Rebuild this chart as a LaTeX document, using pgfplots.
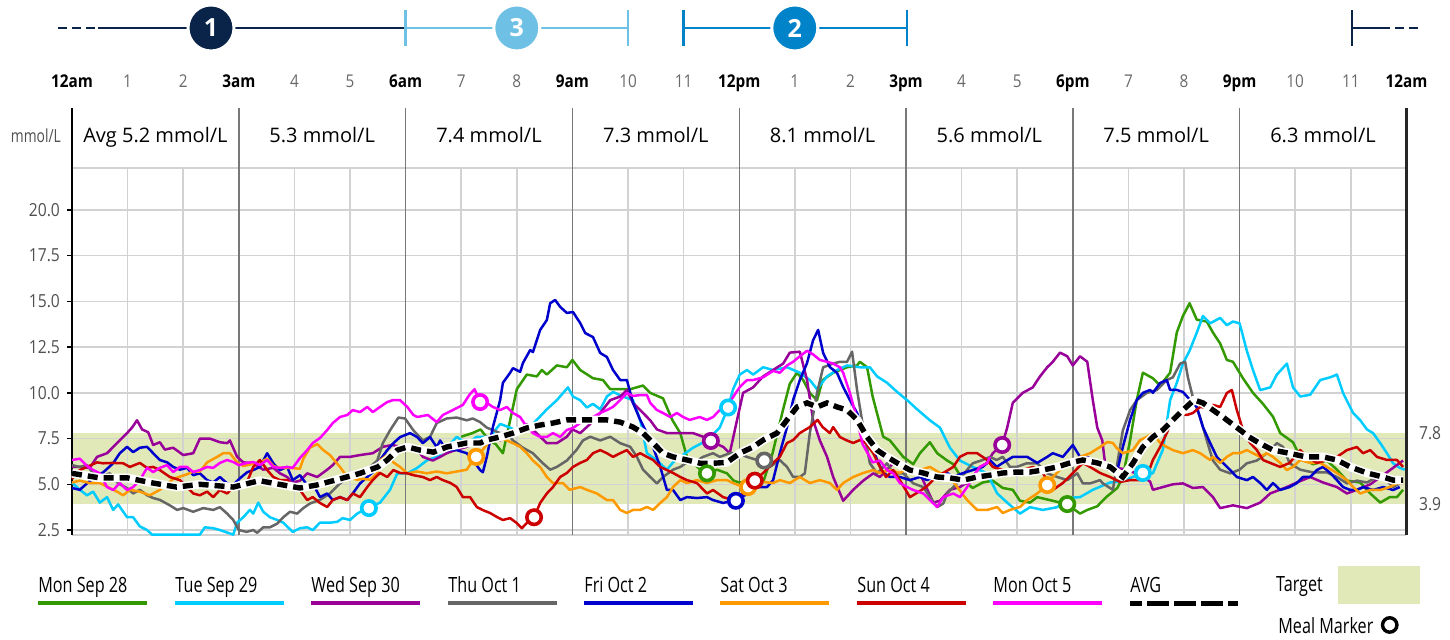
\documentclass[border=0pt]{standalone}
\usepackage{fontspec}
\setmainfont{Open Sans}
\newfontfamily\condA[FakeStretch=0.77]{Open Sans}
\newfontfamily\condB[FakeStretch=0.87]{Open Sans}
\usepackage{pgfplots}
\pgfplotsset{compat=1.18}
\definecolor{cgreen}{RGB}{51,153,0}
\definecolor{ccyan}{RGB}{0,204,255}
\definecolor{cpurple}{RGB}{153,0,153}
\definecolor{cgray}{RGB}{102,102,102}
\definecolor{cblue}{RGB}{0,0,204}
\definecolor{corange}{RGB}{255,153,0}
\definecolor{cred}{RGB}{204,0,0}
\definecolor{cmag}{RGB}{255,0,255}
\definecolor{target}{RGB}{225,233,185}
\definecolor{navy}{RGB}{10,35,72}
\definecolor{lblue}{RGB}{110,193,228}
\definecolor{mblue}{RGB}{0,131,200}
\definecolor{gridc}{RGB}{210,210,210}
\definecolor{grid3}{RGB}{120,120,120}
\definecolor{labc}{RGB}{80,80,80}
\definecolor{hourc}{RGB}{105,105,105}
\begin{document}
\begin{tikzpicture}
\begin{axis}[
 x=27.8pt, y=9.145pt,
 xmin=0, xmax=24, ymin=2.23, ymax=25.57,
 clip=false,
 axis line style={draw=none},
 xtick=\empty,
 ytick={2.5,5,7.5,10,12.5,15,17.5,20},
 yticklabel style={font=\condB\fontsize{9}{10}\selectfont, text=labc,
   /pgf/number format/fixed, /pgf/number format/fixed zerofill,
   /pgf/number format/precision=1, /pgf/number format/assume math mode=true},
 tick pos=left, tick align=outside, major tick length=2.5pt,
 ytick style={black, line width=0.7pt},
 ser/.style={line width=1.25pt, line join=round, mark=none},
 mk/.style={only marks, mark=*, mark size=3.6pt, mark options={fill=white, draw=#1, line width=1.8pt}},
]
% bounding box
\path (axis cs:-1.295,-3.46) rectangle (axis cs:24.784,31.48);
% target band
\addplot[draw=none, fill=target] coordinates {(0,3.9) (24,3.9) (24,7.8) (0,7.8)} -- cycle;
% grid
\pgfplotsinvokeforeach{1,2,4,5,7,8,10,11,13,14,16,17,19,20,22,23}{\draw[gridc, line width=0.8pt] (axis cs:#1,2.23) -- (axis cs:#1,22.3);}
\pgfplotsinvokeforeach{2.23,2.5,5,7.5,10,12.5,15,17.5,20,22.3}{\draw[gridc, line width=0.8pt] (axis cs:0,#1) -- (axis cs:24,#1);}
\pgfplotsinvokeforeach{3,6,9,12,15,18,21}{\draw[grid3, line width=0.7pt] (axis cs:#1,2.23) -- (axis cs:#1,25.57);}
\draw[black, line width=1pt] (axis cs:0,2.23) -- (axis cs:0,25.57);
\draw[black!85, line width=1.2pt] (axis cs:24,2.23) -- (axis cs:24,25.57);

% Mon Sep 28
\addplot[ser, cgreen] coordinates {(7.0,7.6) (7.2,7.8) (7.35,8.0) (7.5,7.4) (7.62,7.2) (7.75,6.7) (7.88,8.5) (8.0,10.2) (8.18,11.0) (8.36,10.9) (8.45,11.25) (8.54,11.0) (8.72,11.5) (8.9,11.4) (9.0,11.8) (9.14,11.25) (9.37,10.8) (9.55,10.7) (9.68,10.2) (9.86,10.2) (10.04,10.2) (10.27,10.4) (10.4,10.0) (10.63,9.7) (10.7,9.2) (10.8,8.5) (10.94,7.8) (11.06,6.5) (11.3,5.8) (11.47,5.6) (11.6,5.8) (11.78,5.6) (11.9,5.2) (12.0,5.1) (12.14,5.1) (12.43,5.1) (12.6,6.7) (12.79,9.1) (12.91,10.5) (13.04,11.1) (13.15,10.7) (13.27,10.0) (13.4,9.6) (13.5,10.7) (13.69,11.1) (13.94,11.4) (14.12,11.5) (14.17,11.7) (14.3,11.4) (14.4,9.8) (14.59,7.6) (14.71,7.4) (14.95,6.5) (15.13,6.1) (15.25,6.7) (15.43,7.3) (15.56,6.7) (15.74,6.3) (15.85,6.1) (16.03,5.2) (16.2,4.8) (16.38,5.1) (16.56,5.2) (16.74,4.8) (16.92,4.7) (17.05,4.1) (17.23,4.0) (17.36,4.3) (17.64,4.1) (17.9,3.9) (18.13,3.4) (18.26,3.6) (18.44,3.8) (18.6,4.3) (18.8,4.8) (18.9,5.4) (19.03,7.4) (19.15,9.6) (19.26,11.1) (19.44,10.8) (19.57,10.4) (19.75,11.1) (19.87,13.3) (19.98,14.2) (20.1,14.9) (20.23,14.0) (20.41,13.9) (20.52,13.3) (20.65,12.7) (20.77,11.8) (20.88,11.7) (21.06,10.8) (21.24,10.0) (21.42,9.4) (21.6,8.7) (21.73,7.8) (21.96,7.3) (22.09,6.5) (22.32,6.1) (22.57,6.3) (22.75,5.8) (22.93,5.2) (23.17,5.1) (23.35,4.5) (23.53,4.0) (23.7,4.3) (23.83,4.3) (23.94,4.7)};
% Tue Sep 29
\addplot[ser, ccyan] coordinates {(0,5.1) (0.14,4.7) (0.27,4.4) (0.38,4.6) (0.5,4.0) (0.63,4.3) (0.74,3.6) (0.83,3.9) (0.99,3.2) (1.1,3.2) (1.22,2.7) (1.35,2.5) (1.44,2.25) (2.3,2.25) (2.39,2.65) (2.54,2.6) (2.66,2.5) (2.9,2.25) (2.97,2.9) (3.08,3.2) (3.2,3.6) (3.26,3.4) (3.35,4.0) (3.44,3.5) (3.56,3.2) (3.69,3.05) (3.8,2.9) (3.97,2.4) (4.1,2.6) (4.23,2.65) (4.33,2.5) (4.46,2.9) (4.64,2.9) (4.77,2.95) (4.87,3.15) (5.0,3.05) (5.13,3.4) (5.31,3.7) (5.54,4.0) (5.72,4.7) (5.85,5.6) (6.03,5.6) (6.21,5.9) (6.38,6.3) (6.56,6.5) (6.74,7.0) (6.92,7.6) (7.1,7.2) (7.28,7.6) (7.52,7.6) (7.7,8.3) (7.88,8.1) (8.06,7.8) (8.29,8.3) (8.54,9.1) (8.72,9.6) (8.92,10.3) (9.01,9.8) (9.14,9.6) (9.26,9.2) (9.37,9.4) (9.5,9.1) (9.62,9.8) (9.73,10.05) (9.91,9.8) (10.09,9.6) (10.22,8.5) (10.34,6.7) (10.52,6.3) (10.7,5.8) (10.81,6.2) (10.94,6.5) (11.17,7.0) (11.42,7.4) (11.65,8.1) (11.8,9.2) (11.89,10.2) (12.01,11.0) (12.14,11.25) (12.25,11.0) (12.43,11.4) (12.61,11.25) (12.86,11.4) (13.09,11.1) (13.27,10.7) (13.4,10.2) (13.58,10.9) (13.76,11.25) (13.94,11.5) (14.17,11.4) (14.35,11.4) (14.48,10.9) (14.66,10.55) (14.84,10.05) (15.02,9.6) (15.2,9.1) (15.43,8.5) (15.61,8.1) (15.79,7.0) (15.97,6.3) (16.2,5.95) (16.46,5.6) (16.64,4.5) (16.82,4.0) (17.05,3.4) (17.23,3.75) (17.46,3.6) (17.72,3.75) (17.9,4.25) (18.13,4.3) (18.36,4.7) (18.67,5.1) (18.85,5.15) (19.08,5.4) (19.26,5.65) (19.44,5.6) (19.62,6.9) (19.75,9.6) (19.87,10.55) (19.98,11.6) (20.1,12.3) (20.23,13.3) (20.34,14.2) (20.47,13.8) (20.65,14.1) (20.77,13.7) (20.88,13.9) (21.0,13.8) (21.13,12.3) (21.24,11.25) (21.37,10.15) (21.55,10.3) (21.67,11.0) (21.85,11.6) (21.96,10.3) (22.09,9.8) (22.27,9.9) (22.45,10.7) (22.63,10.85) (22.75,11.0) (22.86,10.0) (23.04,8.9) (23.17,8.5) (23.29,8.0) (23.4,7.8) (23.53,7.25) (23.65,6.7) (23.76,6.15) (23.88,5.9) (23.97,5.8)};
% Wed Sep 30
\addplot[ser, cpurple] coordinates {(0,5.95) (0.14,5.95) (0.32,5.9) (0.45,6.5) (0.63,6.7) (0.81,7.25) (0.99,7.8) (1.08,8.1) (1.17,8.5) (1.26,8.0) (1.37,7.85) (1.46,7.15) (1.58,7.3) (1.67,6.9) (1.82,7.0) (2.0,6.6) (2.18,6.7) (2.3,7.5) (2.48,7.5) (2.66,7.3) (2.79,7.25) (2.84,7.4) (2.97,6.5) (3.08,6.2) (3.26,6.15) (3.44,5.8) (3.62,5.9) (3.74,5.6) (3.87,5.4) (3.97,5.1) (4.1,5.2) (4.23,5.6) (4.41,5.4) (4.59,5.8) (4.69,6.05) (4.82,6.5) (5.0,6.5) (5.18,6.6) (5.41,6.7) (5.59,7.05) (5.76,7.15) (5.9,7.05) (6.03,6.9) (6.21,6.9) (6.31,6.5) (6.49,6.3) (6.62,6.5) (6.74,6.7) (6.92,6.9) (7.1,7.05) (7.28,7.25) (7.46,7.6) (7.7,7.4) (7.93,7.8) (8.18,8.3) (8.29,8.0) (8.42,7.6) (8.54,7.25) (8.72,7.25) (8.9,7.6) (9.0,8.0) (9.14,7.8) (9.32,8.3) (9.5,8.9) (9.68,9.6) (9.86,9.8) (9.98,10.15) (10.09,9.45) (10.27,8.9) (10.4,8.5) (10.52,8.0) (10.7,7.8) (10.94,7.8) (11.17,7.8) (11.35,7.6) (11.49,7.35) (11.71,7.05) (11.83,6.7) (11.96,8.5) (12.07,10.0) (12.25,10.3) (12.43,10.9) (12.61,11.25) (12.79,11.6) (12.91,12.2) (13.09,12.25) (13.22,10.7) (13.33,8.5) (13.45,7.4) (13.58,6.5) (13.69,5.4) (13.87,4.1) (14.05,4.7) (14.23,5.2) (14.41,5.6) (14.53,5.4) (14.66,5.8) (14.77,6.15) (15.02,5.95) (15.25,5.6) (15.49,4.0) (15.61,4.1) (15.79,4.7) (15.97,4.85) (16.15,5.2) (16.33,5.95) (16.46,6.15) (16.56,6.7) (16.73,7.15) (16.82,8.1) (16.92,9.45) (17.1,10.0) (17.28,10.3) (17.41,10.9) (17.54,11.4) (17.64,11.7) (17.77,12.2) (17.9,12.0) (18.0,11.5) (18.13,12.0) (18.26,11.7) (18.36,9.6) (18.44,8.1) (18.53,7.4) (18.58,6.15) (18.63,5.8) (18.79,5.9) (18.97,5.8) (19.21,5.5) (19.39,5.15) (19.44,4.7) (19.62,4.85) (19.8,5.0) (19.98,5.05) (20.16,4.8) (20.34,4.85) (20.52,4.3) (20.65,3.7) (20.88,3.85) (21.13,3.7) (21.37,4.0) (21.55,4.5) (21.85,4.85) (22.03,5.1) (22.27,5.4) (22.5,5.1) (22.75,4.85) (22.93,4.5) (23.11,4.7) (23.35,5.0) (23.58,5.5) (23.76,5.9) (23.94,6.3)};
% Thu Oct 1
\addplot[ser, cgray] coordinates {(0,6.05) (0.14,5.95) (0.27,6.05) (0.38,5.6) (0.5,5.4) (0.68,5.6) (0.83,5.05) (0.99,4.8) (1.1,4.5) (1.22,4.7) (1.35,4.4) (1.46,4.25) (1.58,4.15) (1.76,3.85) (1.89,3.6) (2.0,3.7) (2.18,3.5) (2.36,3.7) (2.54,3.6) (2.66,3.75) (2.79,3.4) (2.9,3.05) (3.0,2.5) (3.14,2.4) (3.26,2.5) (3.33,2.35) (3.44,2.65) (3.56,2.65) (3.69,2.85) (3.8,3.2) (3.92,3.5) (4.05,3.4) (4.16,3.7) (4.28,3.95) (4.46,4.15) (4.64,4.5) (4.82,5.05) (5.05,5.6) (5.23,5.8) (5.36,5.95) (5.49,6.3) (5.59,7.25) (5.72,7.95) (5.87,8.65) (5.99,8.6) (6.14,7.95) (6.31,7.4) (6.44,7.6) (6.56,8.35) (6.74,8.6) (6.92,8.65) (7.1,8.5) (7.21,8.6) (7.34,8.4) (7.46,8.1) (7.58,7.95) (7.7,7.8) (7.82,7.8) (7.93,7.4) (8.11,7.0) (8.29,6.7) (8.47,6.15) (8.6,5.8) (8.72,5.95) (8.9,6.3) (9.08,6.9) (9.19,7.4) (9.32,7.6) (9.5,7.4) (9.68,7.6) (9.86,7.25) (10.04,7.05) (10.16,6.5) (10.27,5.8) (10.4,5.4) (10.52,5.05) (10.63,5.4) (10.81,5.8) (10.94,5.95) (11.06,6.2) (11.17,6.15) (11.35,6.5) (11.53,6.7) (11.65,6.5) (11.83,6.7) (11.96,6.7) (12.14,6.5) (12.32,6.33) (12.45,6.33) (12.55,5.95) (12.73,6.33) (12.86,5.95) (12.97,5.4) (13.09,5.4) (13.18,5.6) (13.27,7.8) (13.4,10.0) (13.51,11.4) (13.69,11.6) (13.81,11.7) (13.94,11.7) (14.03,12.25) (14.12,10.15) (14.23,8.1) (14.35,6.15) (14.48,5.6) (14.66,6.15) (14.77,5.6) (14.95,5.6) (15.13,5.05) (15.31,4.85) (15.43,4.3) (15.56,3.75) (15.67,3.95) (15.74,4.5) (15.85,4.85) (15.97,5.23) (16.1,5.8) (16.2,6.15) (16.38,6.33) (16.51,6.5) (16.63,6.33) (16.74,6.5) (16.87,5.95) (16.99,5.95) (17.17,6.15) (17.36,6.15) (17.54,5.6) (17.72,5.4) (17.9,5.23) (18.08,5.6) (18.18,5.05) (18.31,5.05) (18.49,5.23) (18.54,5.05) (18.72,4.7) (18.9,7.95) (19.03,9.05) (19.15,9.6) (19.33,10.0) (19.51,10.15) (19.69,10.7) (19.8,10.85) (19.93,11.6) (20.02,11.7) (20.07,10.85) (20.16,9.75) (20.29,8.65) (20.41,7.4) (20.52,6.3) (20.65,5.8) (20.83,5.6) (21.0,5.8) (21.13,6.15) (21.31,6.3) (21.49,6.7) (21.67,7.25) (21.78,7.05) (21.9,6.15) (22.09,5.8) (22.32,5.65) (22.57,5.65) (22.75,5.4) (22.93,5.05) (23.11,5.2) (23.29,5.1) (23.47,5.4) (23.65,5.2) (23.76,4.85) (23.88,5.05)};
% Fri Oct 2
\addplot[ser, cblue] coordinates {(0,4.8) (0.14,4.7) (0.27,5.05) (0.45,5.5) (0.56,5.65) (0.74,6.15) (0.86,6.7) (0.99,7.05) (1.1,6.76) (1.22,7.0) (1.35,7.05) (1.46,6.7) (1.58,6.33) (1.71,6.2) (1.82,5.95) (1.94,5.8) (2.07,5.9) (2.18,5.5) (2.3,5.6) (2.43,5.23) (2.54,5.1) (2.66,5.4) (2.79,5.05) (2.9,4.96) (3.02,5.33) (3.15,5.66) (3.26,5.78) (3.38,5.95) (3.51,6.7) (3.62,6.15) (3.74,5.78) (3.87,5.95) (3.97,5.23) (4.1,5.5) (4.23,4.96) (4.33,5.05) (4.46,4.3) (4.59,4.5) (4.69,4.14) (4.82,4.3) (4.95,4.14) (5.05,4.5) (5.18,5.05) (5.31,5.4) (5.41,5.66) (5.54,6.33) (5.67,6.87) (5.78,7.25) (5.9,7.58) (6.08,7.8) (6.21,7.58) (6.31,7.25) (6.44,7.58) (6.56,7.03) (6.62,7.4) (6.74,6.87) (6.92,6.87) (7.1,6.7) (7.21,6.33) (7.34,5.78) (7.39,5.66) (7.46,6.5) (7.57,8.13) (7.7,9.6) (7.75,10.55) (7.88,11.1) (7.93,11.35) (8.06,11.15) (8.11,11.63) (8.24,12.34) (8.29,12.23) (8.42,13.44) (8.54,13.98) (8.6,14.9) (8.69,15.08) (8.78,14.7) (8.9,14.37) (9.01,14.42) (9.14,13.82) (9.23,13.27) (9.37,13.05) (9.5,12.18) (9.62,11.96) (9.73,11.25) (9.86,10.7) (9.98,10.7) (10.09,9.45) (10.22,8.52) (10.34,7.8) (10.45,7.04) (10.58,5.95) (10.7,4.69) (10.81,4.69) (10.94,4.14) (11.06,4.3) (11.24,4.25) (11.42,4.3) (11.53,4.14) (11.71,3.98) (11.94,4.14) (12.01,4.3) (12.19,4.5) (12.32,4.85) (12.5,4.85) (12.61,5.23) (12.73,6.7) (12.86,8.13) (12.97,9.61) (13.09,10.7) (13.22,11.63) (13.33,12.89) (13.42,13.44) (13.51,12.18) (13.63,11.41) (13.76,11.09) (13.87,10.32) (13.99,9.61) (14.12,8.9) (14.23,7.97) (14.35,7.42) (14.48,6.33) (14.59,5.62) (14.71,5.4) (14.89,5.4) (15.07,5.23) (15.25,5.4) (15.38,5.23) (15.49,5.4) (15.61,5.23) (15.74,5.62) (15.85,5.4) (16.03,5.62) (16.2,5.78) (16.38,5.95) (16.51,6.33) (16.63,5.95) (16.74,6.17) (16.92,6.5) (17.18,6.5) (17.36,6.17) (17.54,6.5) (17.64,6.7) (17.82,6.5) (18.0,7.15) (18.13,6.5) (18.26,6.5) (18.44,6.17) (18.54,5.95) (18.67,5.78) (18.79,5.62) (18.9,7.04) (19.03,8.52) (19.15,9.61) (19.26,10.0) (19.39,10.16) (19.44,10.0) (19.57,10.54) (19.69,10.7) (19.75,10.16) (19.87,10.16) (19.98,10.05) (20.11,9.61) (20.23,9.23) (20.34,8.13) (20.47,7.26) (20.59,6.5) (20.7,6.17) (20.83,5.78) (20.95,5.4) (21.13,5.23) (21.24,5.4) (21.37,5.07) (21.49,4.69) (21.6,5.07) (21.73,4.69) (21.9,4.85) (22.03,5.07) (22.14,5.4) (22.27,5.4) (22.39,5.78) (22.5,5.95) (22.63,5.62) (22.75,5.23) (22.86,4.85) (22.99,4.69) (23.11,4.69) (23.22,4.85) (23.4,4.69) (23.58,4.85) (23.76,4.69) (23.88,4.85)};
% Sat Oct 3
\addplot[ser, corange] coordinates {(0,5.1) (0.14,5.2) (0.32,5.07) (0.5,5.07) (0.68,4.8) (0.81,4.6) (0.92,4.4) (1.04,4.7) (1.22,4.6) (1.4,4.4) (1.58,4.7) (1.71,5.0) (1.82,5.3) (2.07,5.55) (2.18,5.7) (2.3,5.7) (2.43,6.2) (2.61,6.5) (2.72,6.7) (2.84,6.7) (2.97,6.2) (3.08,6.0) (3.38,6.2) (3.51,6.4) (3.62,6.0) (3.74,5.9) (3.92,5.9) (4.1,5.85) (4.16,6.4) (4.28,7.0) (4.41,7.2) (4.52,6.87) (4.64,6.6) (4.82,5.95) (4.95,5.4) (5.13,5.25) (5.23,5.3) (5.36,5.25) (5.49,5.6) (5.54,6.3) (5.67,6.6) (5.78,6.2) (5.9,5.95) (6.03,5.6) (6.21,5.7) (6.38,5.6) (6.56,5.7) (6.74,5.6) (6.92,5.7) (7.1,5.8) (7.21,6.3) (7.27,6.5) (7.34,6.7) (7.52,7.4) (7.65,7.6) (7.82,7.4) (7.93,7.25) (8.06,7.05) (8.18,6.7) (8.29,6.3) (8.42,5.95) (8.54,5.4) (8.65,5.07) (8.83,5.07) (8.95,4.7) (9.14,4.85) (9.26,4.7) (9.44,4.5) (9.62,4.14) (9.73,4.14) (9.86,3.6) (9.98,3.43) (10.09,3.6) (10.22,3.6) (10.34,3.76) (10.45,3.6) (10.58,3.98) (10.7,4.3) (10.81,4.85) (10.94,5.23) (11.06,5.07) (11.24,5.23) (11.42,5.07) (11.6,5.23) (11.78,5.23) (11.89,5.07) (12.07,4.85) (12.16,4.85) (12.25,4.96) (12.43,5.13) (12.61,5.07) (12.73,5.23) (12.91,5.07) (13.09,5.4) (13.27,5.07) (13.45,5.23) (13.63,5.07) (13.76,4.69) (13.87,5.07) (14.05,5.4) (14.23,5.62) (14.41,5.78) (14.53,5.62) (14.71,5.78) (14.89,5.62) (15.07,5.95) (15.25,5.78) (15.43,5.95) (15.61,5.62) (15.79,5.4) (15.92,4.85) (16.1,4.14) (16.28,3.6) (16.46,3.6) (16.64,3.76) (16.74,3.43) (16.87,3.6) (17.05,3.76) (17.18,4.14) (17.36,4.5) (17.54,4.96) (17.64,5.4) (17.82,5.95) (18.0,6.17) (18.13,6.5) (18.31,6.7) (18.49,7.04) (18.62,7.31) (18.72,7.26) (18.79,6.98) (18.9,6.7) (19.08,6.87) (19.21,7.42) (19.33,7.59) (19.44,7.8) (19.57,7.26) (19.69,7.04) (19.8,6.87) (19.98,6.7) (20.16,6.87) (20.29,6.7) (20.47,6.33) (20.52,6.5) (20.65,6.17) (20.77,6.5) (20.88,6.7) (21.0,6.7) (21.13,6.87) (21.24,6.7) (21.37,6.5) (21.49,6.7) (21.6,6.5) (21.73,6.17) (21.85,5.78) (21.96,5.95) (22.09,6.33) (22.27,6.17) (22.45,6.17) (22.57,5.95) (22.75,5.62) (22.93,5.23) (23.04,4.85) (23.17,4.5) (23.35,4.69) (23.53,4.69) (23.7,4.85) (23.83,5.07) (23.94,5.07)};
% Sun Oct 4
\addplot[ser, cred] coordinates {(0,5.3) (0.14,5.78) (0.27,5.95) (0.45,6.2) (0.56,6.15) (0.74,6.17) (0.92,6.15) (1.04,5.95) (1.22,6.17) (1.35,5.9) (1.46,5.95) (1.58,5.78) (1.76,5.4) (1.94,5.23) (2.07,4.85) (2.18,4.5) (2.3,4.4) (2.43,4.6) (2.54,4.3) (2.66,4.69) (2.79,4.5) (2.9,4.85) (3.02,5.07) (3.15,5.13) (3.26,5.95) (3.38,6.33) (3.51,5.78) (3.62,5.4) (3.74,5.23) (3.87,5.23) (3.97,4.85) (4.1,4.69) (4.23,4.14) (4.33,4.3) (4.46,3.98) (4.59,3.76) (4.69,4.14) (4.82,4.3) (4.95,4.14) (5.05,4.5) (5.18,4.3) (5.31,4.85) (5.41,5.23) (5.54,5.62) (5.67,5.4) (5.78,5.78) (5.9,5.62) (6.03,5.6) (6.14,5.5) (6.31,5.4) (6.44,5.23) (6.56,5.4) (6.67,5.23) (6.81,5.07) (6.92,4.85) (7.03,4.3) (7.16,4.3) (7.28,3.76) (7.39,3.59) (7.52,3.43) (7.65,3.2) (7.75,3.05) (7.88,3.15) (8.0,2.88) (8.09,2.6) (8.18,2.88) (8.31,3.2) (8.42,3.98) (8.54,4.5) (8.65,4.85) (8.78,5.4) (8.9,5.62) (9.01,5.95) (9.14,6.17) (9.26,6.33) (9.37,6.7) (9.5,6.87) (9.62,6.7) (9.73,6.5) (9.86,6.7) (9.98,6.87) (10.09,6.5) (10.22,6.7) (10.34,6.5) (10.45,6.33) (10.58,5.95) (10.7,5.78) (10.81,5.62) (10.94,5.4) (11.06,5.23) (11.24,5.07) (11.42,4.5) (11.53,4.69) (11.71,4.3) (11.89,4.14) (12.01,4.3) (12.14,4.85) (12.28,5.2) (12.43,5.62) (12.61,6.17) (12.73,6.5) (12.86,7.26) (12.97,7.42) (13.09,7.8) (13.27,8.13) (13.41,8.52) (13.5,8.13) (13.63,7.8) (13.69,8.13) (13.81,7.59) (13.92,7.42) (14.05,7.26) (14.17,7.42) (14.28,7.26) (14.41,6.7) (14.53,5.95) (14.64,5.4) (14.77,5.78) (14.89,5.23) (15.07,4.3) (15.18,4.5) (15.36,4.85) (15.54,5.4) (15.67,5.62) (15.85,5.95) (15.97,6.5) (16.1,6.7) (16.28,6.7) (16.46,6.33) (16.56,5.95) (16.74,5.78) (16.92,5.62) (17.1,5.78) (17.28,5.95) (17.46,5.62) (17.64,4.69) (17.82,5.07) (18.0,5.62) (18.18,6.17) (18.31,5.95) (18.49,5.62) (18.67,5.4) (18.85,5.13) (19.03,5.23) (19.21,5.23) (19.33,5.4) (19.44,6.33) (19.57,7.04) (19.69,7.8) (19.8,8.68) (19.93,8.9) (20.05,8.79) (20.16,8.9) (20.29,9.23) (20.41,9.17) (20.52,9.34) (20.65,9.23) (20.77,9.99) (20.86,10.16) (20.95,9.06) (21.06,7.97) (21.19,7.26) (21.31,6.87) (21.42,6.33) (21.55,6.17) (21.73,5.95) (21.9,6.17) (22.09,6.87) (22.21,6.5) (22.39,6.17) (22.57,6.33) (22.75,6.5) (22.93,6.87) (23.11,7.04) (23.22,6.7) (23.35,6.87) (23.47,6.5) (23.65,6.33) (23.83,6.33) (23.94,5.95)};
% Mon Oct 5
\addplot[ser, cmag] coordinates {(0,6.33) (0.14,6.4) (0.27,6.0) (0.38,5.78) (0.5,5.6) (0.63,4.85) (0.74,4.69) (0.86,5.07) (0.99,4.69) (1.1,4.85) (1.22,5.23) (1.35,5.9) (1.46,5.67) (1.58,5.9) (1.71,6.05) (1.82,5.67) (1.94,5.95) (2.07,5.95) (2.18,5.67) (2.3,5.78) (2.43,5.95) (2.54,5.9) (2.66,6.17) (2.79,6.33) (2.9,6.22) (3.0,6.05) (3.15,6.17) (3.26,6.22) (3.38,6.05) (3.51,6.33) (3.62,5.95) (3.74,5.9) (3.87,5.95) (3.97,5.9) (4.1,6.44) (4.23,6.87) (4.33,7.26) (4.46,7.53) (4.59,7.97) (4.69,8.35) (4.82,8.68) (4.95,8.79) (5.05,9.06) (5.18,8.95) (5.31,9.23) (5.41,8.95) (5.54,9.23) (5.67,9.5) (5.78,9.61) (5.9,9.6) (6.03,9.23) (6.14,8.79) (6.21,8.68) (6.4,8.79) (6.56,8.4) (6.67,8.79) (6.85,9.06) (7.03,9.34) (7.15,9.9) (7.24,10.2) (7.34,9.5) (7.46,9.45) (7.57,9.23) (7.7,9.06) (7.82,9.23) (7.93,8.9) (8.06,8.68) (8.18,8.13) (8.29,7.8) (8.42,7.59) (8.54,7.59) (8.65,7.8) (8.78,7.59) (8.9,7.97) (9.01,8.08) (9.14,8.35) (9.26,8.52) (9.37,8.68) (9.5,8.9) (9.62,9.06) (9.73,9.23) (9.86,9.61) (9.98,9.99) (10.09,9.83) (10.22,9.88) (10.34,9.88) (10.4,9.45) (10.52,9.06) (10.63,8.9) (10.76,8.68) (10.88,8.9) (10.99,8.68) (11.11,8.52) (11.29,8.68) (11.42,8.52) (11.53,8.68) (11.65,9.06) (11.78,9.23) (11.89,9.77) (12.01,10.32) (12.14,10.7) (12.25,10.7) (12.43,10.85) (12.61,11.2) (12.73,11.1) (12.86,11.5) (12.97,11.7) (13.09,12.0) (13.22,12.3) (13.33,12.1) (13.45,11.8) (13.58,11.7) (13.69,11.6) (13.81,11.4) (13.87,11.1) (13.99,10.0) (14.08,9.0) (14.22,7.2) (14.4,6.2) (14.53,6.3) (14.66,5.78) (14.77,5.6) (14.89,5.07) (15.02,4.85) (15.13,4.69) (15.31,4.5) (15.43,4.14) (15.56,3.76) (15.67,4.3) (15.85,4.5) (15.97,4.3) (16.1,4.85) (16.2,5.4) (16.33,5.95) (16.46,6.17) (16.51,6.5)};
% AVG
\addplot[line width=4.3pt, white, line join=round] coordinates {(0,5.6) (0.5,5.35) (1.0,5.35) (1.4,5.1) (1.88,4.85) (2.3,5.0) (2.9,4.85) (3.37,5.2) (3.8,4.96) (4.1,4.8) (4.4,4.96) (4.7,5.2) (5.18,5.6) (5.5,5.95) (5.67,6.33) (5.85,6.87) (6.03,7.04) (6.26,6.87) (6.5,6.76) (6.74,7.04) (7.1,7.26) (7.34,7.26) (7.46,7.42) (7.7,7.59) (7.93,7.8) (8.18,8.08) (8.42,8.24) (8.65,8.35) (8.9,8.52) (9.14,8.52) (9.37,8.52) (9.62,8.52) (9.86,8.4) (10.09,8.13) (10.27,7.8) (10.45,7.26) (10.63,6.7) (10.81,6.5) (11.06,6.33) (11.3,6.15) (11.53,6.15) (11.78,6.2) (12.01,6.7) (12.25,7.04) (12.43,7.42) (12.68,7.8) (12.86,8.52) (13.04,9.23) (13.22,9.45) (13.4,9.23) (13.58,9.45) (13.76,9.23) (13.94,9.06) (14.12,8.52) (14.3,7.59) (14.48,6.87) (14.66,6.5) (14.84,6.17) (15.07,5.78) (15.31,5.62) (15.56,5.4) (15.79,5.35) (16.03,5.23) (16.28,5.4) (16.51,5.5) (16.74,5.62) (16.99,5.67) (17.23,5.67) (17.46,5.78) (17.72,5.95) (17.95,6.17) (18.18,6.33) (18.44,6.17) (18.67,5.95) (18.9,5.4) (19.08,6.15) (19.26,7.04) (19.44,7.59) (19.62,7.97) (19.8,8.52) (19.98,9.06) (20.18,9.61) (20.34,9.45) (20.52,9.06) (20.7,8.68) (20.94,8.13) (21.17,7.59) (21.35,7.26) (21.6,6.87) (21.89,6.7) (22.19,6.5) (22.5,6.5) (22.75,6.33) (22.99,5.95) (23.29,5.62) (23.58,5.4) (23.76,5.23) (23.94,5.23)};
\addplot[line width=2.7pt, black, dash pattern=on 5pt off 3pt] coordinates {(0,5.6) (0.5,5.35) (1.0,5.35) (1.4,5.1) (1.88,4.85) (2.3,5.0) (2.9,4.85) (3.37,5.2) (3.8,4.96) (4.1,4.8) (4.4,4.96) (4.7,5.2) (5.18,5.6) (5.5,5.95) (5.67,6.33) (5.85,6.87) (6.03,7.04) (6.26,6.87) (6.5,6.76) (6.74,7.04) (7.1,7.26) (7.34,7.26) (7.46,7.42) (7.7,7.59) (7.93,7.8) (8.18,8.08) (8.42,8.24) (8.65,8.35) (8.9,8.52) (9.14,8.52) (9.37,8.52) (9.62,8.52) (9.86,8.4) (10.09,8.13) (10.27,7.8) (10.45,7.26) (10.63,6.7) (10.81,6.5) (11.06,6.33) (11.3,6.15) (11.53,6.15) (11.78,6.2) (12.01,6.7) (12.25,7.04) (12.43,7.42) (12.68,7.8) (12.86,8.52) (13.04,9.23) (13.22,9.45) (13.4,9.23) (13.58,9.45) (13.76,9.23) (13.94,9.06) (14.12,8.52) (14.3,7.59) (14.48,6.87) (14.66,6.5) (14.84,6.17) (15.07,5.78) (15.31,5.62) (15.56,5.4) (15.79,5.35) (16.03,5.23) (16.28,5.4) (16.51,5.5) (16.74,5.62) (16.99,5.67) (17.23,5.67) (17.46,5.78) (17.72,5.95) (17.95,6.17) (18.18,6.33) (18.44,6.17) (18.67,5.95) (18.9,5.4) (19.08,6.15) (19.26,7.04) (19.44,7.59) (19.62,7.97) (19.8,8.52) (19.98,9.06) (20.18,9.61) (20.34,9.45) (20.52,9.06) (20.7,8.68) (20.94,8.13) (21.17,7.59) (21.35,7.26) (21.6,6.87) (21.89,6.7) (22.19,6.5) (22.5,6.5) (22.75,6.33) (22.99,5.95) (23.29,5.62) (23.58,5.4) (23.76,5.23) (23.94,5.23)};
% meal markers
\addplot[mk=cmag] coordinates {(7.34,9.5)};
\addplot[mk=ccyan] coordinates {(5.34,3.7) (11.8,9.2) (19.26,5.62)};
\addplot[mk=corange] coordinates {(7.27,6.5) (12.16,4.85) (17.54,4.96)};
\addplot[mk=cred] coordinates {(8.31,3.2) (12.28,5.2)};
\addplot[mk=cpurple] coordinates {(11.49,7.37) (16.73,7.15)};
\addplot[mk=cgreen] coordinates {(11.42,5.6) (17.9,3.92)};
\addplot[mk=cblue] coordinates {(11.94,4.1)};
\addplot[mk=cgray] coordinates {(12.45,6.3)};

% right labels
\node[anchor=west, font=\condB\fontsize{9}{10}\selectfont, text=labc] at (axis cs:24.1,7.8) {7.8};
\node[anchor=west, font=\condB\fontsize{9}{10}\selectfont, text=labc] at (axis cs:24.1,3.9) {3.9};
\node[anchor=base, font=\condA\fontsize{9}{10}\selectfont, text=labc] at (axis cs:-0.65,23.71) {mmol/L};

% header
\foreach \h/\t in {1.5/Avg 5.2 mmol\slash L, 4.5/5.3 mmol\slash L, 7.5/7.4 mmol\slash L, 10.5/7.3 mmol\slash L, 13.5/8.1 mmol\slash L, 16.5/5.6 mmol\slash L, 19.5/7.5 mmol\slash L, 22.5/6.3 mmol\slash L}{
  \edef\tmp{\noexpand\node[anchor=base, font=\noexpand\fontsize{10}{12}\noexpand\selectfont] at (axis cs:\h,23.71) {\unexpanded\expandafter{\t}};}\tmp
}

% hour labels
\node[anchor=base, font=\condB\bfseries\fontsize{8.8}{10}\selectfont] at (axis cs:0,26.72) {12am};
\node[anchor=base, font=\condB\bfseries\fontsize{8.8}{10}\selectfont] at (axis cs:3,26.72) {3am};
\node[anchor=base, font=\condB\bfseries\fontsize{8.8}{10}\selectfont] at (axis cs:6,26.72) {6am};
\node[anchor=base, font=\condB\bfseries\fontsize{8.8}{10}\selectfont] at (axis cs:9,26.72) {9am};
\node[anchor=base, font=\condB\bfseries\fontsize{8.8}{10}\selectfont] at (axis cs:12,26.72) {12pm};
\node[anchor=base, font=\condB\bfseries\fontsize{8.8}{10}\selectfont] at (axis cs:15,26.72) {3pm};
\node[anchor=base, font=\condB\bfseries\fontsize{8.8}{10}\selectfont] at (axis cs:18,26.72) {6pm};
\node[anchor=base, font=\condB\bfseries\fontsize{8.8}{10}\selectfont] at (axis cs:21,26.72) {9pm};
\node[anchor=base, font=\condB\bfseries\fontsize{8.8}{10}\selectfont] at (axis cs:24,26.72) {12am};
\node[anchor=base, font=\condB\fontsize{8.8}{10}\selectfont, text=hourc] at (axis cs:1,26.72) {1};
\node[anchor=base, font=\condB\fontsize{8.8}{10}\selectfont, text=hourc] at (axis cs:2,26.72) {2};
\node[anchor=base, font=\condB\fontsize{8.8}{10}\selectfont, text=hourc] at (axis cs:4,26.72) {4};
\node[anchor=base, font=\condB\fontsize{8.8}{10}\selectfont, text=hourc] at (axis cs:5,26.72) {5};
\node[anchor=base, font=\condB\fontsize{8.8}{10}\selectfont, text=hourc] at (axis cs:7,26.72) {7};
\node[anchor=base, font=\condB\fontsize{8.8}{10}\selectfont, text=hourc] at (axis cs:8,26.72) {8};
\node[anchor=base, font=\condB\fontsize{8.8}{10}\selectfont, text=hourc] at (axis cs:10,26.72) {10};
\node[anchor=base, font=\condB\fontsize{8.8}{10}\selectfont, text=hourc] at (axis cs:11,26.72) {11};
\node[anchor=base, font=\condB\fontsize{8.8}{10}\selectfont, text=hourc] at (axis cs:13,26.72) {1};
\node[anchor=base, font=\condB\fontsize{8.8}{10}\selectfont, text=hourc] at (axis cs:14,26.72) {2};
\node[anchor=base, font=\condB\fontsize{8.8}{10}\selectfont, text=hourc] at (axis cs:16,26.72) {4};
\node[anchor=base, font=\condB\fontsize{8.8}{10}\selectfont, text=hourc] at (axis cs:17,26.72) {5};
\node[anchor=base, font=\condB\fontsize{8.8}{10}\selectfont, text=hourc] at (axis cs:19,26.72) {7};
\node[anchor=base, font=\condB\fontsize{8.8}{10}\selectfont, text=hourc] at (axis cs:20,26.72) {8};
\node[anchor=base, font=\condB\fontsize{8.8}{10}\selectfont, text=hourc] at (axis cs:22,26.72) {10};
\node[anchor=base, font=\condB\fontsize{8.8}{10}\selectfont, text=hourc] at (axis cs:23,26.72) {11};

% timeline
\draw[navy, line width=1.25pt, dash pattern=on 4.5pt off 2.5pt] (axis cs:-0.25,29.95) -- (axis cs:0.42,29.95);
\draw[navy, line width=1.25pt] (axis cs:0.47,29.95) -- (axis cs:6,29.95);
\draw[lblue, line width=1.25pt] (axis cs:6,29.95) -- (axis cs:10,29.95);
\draw[lblue, line width=1.25pt] (axis cs:6,28.96) -- (axis cs:6,30.93);
\draw[lblue, line width=1.25pt] (axis cs:10,28.96) -- (axis cs:10,30.93);
\draw[mblue, line width=1.25pt] (axis cs:11,29.95) -- (axis cs:15.02,29.95);
\draw[mblue, line width=1.25pt] (axis cs:11,28.96) -- (axis cs:11,30.93);
\draw[mblue, line width=1.25pt] (axis cs:15.02,28.96) -- (axis cs:15.02,30.93);
\draw[navy, line width=1.25pt] (axis cs:23.02,28.96) -- (axis cs:23.02,30.93);
\draw[navy, line width=1.25pt] (axis cs:23.02,29.95) -- (axis cs:23.7,29.95);
\draw[navy, line width=1.25pt, dash pattern=on 4.5pt off 2.5pt] (axis cs:23.8,29.95) -- (axis cs:24.25,29.95);
\node[circle, fill=navy, draw=white, line width=1.5pt, minimum size=23pt, inner sep=0pt, text=white, font=\bfseries\fontsize{12.5}{14}\selectfont] at (axis cs:2.5,29.95) {1};
\node[circle, fill=lblue, draw=white, line width=1.5pt, minimum size=23pt, inner sep=0pt, text=white, font=\bfseries\fontsize{12.5}{14}\selectfont] at (axis cs:8,29.95) {3};
\node[circle, fill=mblue, draw=white, line width=1.5pt, minimum size=23pt, inner sep=0pt, text=white, font=\bfseries\fontsize{12.5}{14}\selectfont] at (axis cs:13,29.95) {2};

% legend
\foreach \h/\c/\t in {-0.612/cgreen/Mon Sep 28, 1.853/ccyan/Tue Sep 29, 4.299/cpurple/Wed Sep 30, 6.763/cgray/Thu Oct 1, 9.209/cblue/Fri Oct 2, 11.655/corange/Sat Oct 3, 14.119/cred/Sun Oct 4, 16.565/cmag/Mon Oct 5}{
  \edef\tmp{\noexpand\draw[\c, line width=1.75pt] (axis cs:\h,-1.5) -- ++(54.5pt,0pt);
  \noexpand\node[anchor=base west, inner sep=0pt, font=\noexpand\condA\noexpand\fontsize{10.5}{12}\noexpand\selectfont] at (axis cs:\h,-0.94) {\t};}\tmp
}
\draw[black, line width=2.5pt, dash pattern=on 11pt off 2.5pt, dash phase=5pt] (axis cs:19.029,-1.5) -- ++(54pt,0pt);
\node[anchor=base west, inner sep=0pt, font=\condA\fontsize{10.5}{12}\selectfont] at (axis cs:19.029,-0.94) {AVG};
\node[anchor=base west, inner sep=0pt, font=\condA\fontsize{10.5}{12}\selectfont] at (axis cs:21.65,-0.85) {Target};
\fill[target] (axis cs:22.77,-1.55) rectangle (axis cs:24.24,0.53);
\node[anchor=base west, inner sep=0pt, font=\condA\fontsize{10.5}{12}\selectfont] at (axis cs:21.69,-3.13) {Meal Marker};
\draw[black, line width=1.7pt, fill=white] (axis cs:23.7,-2.69) circle (3.6pt);
\end{axis}
\end{tikzpicture}
\end{document}
